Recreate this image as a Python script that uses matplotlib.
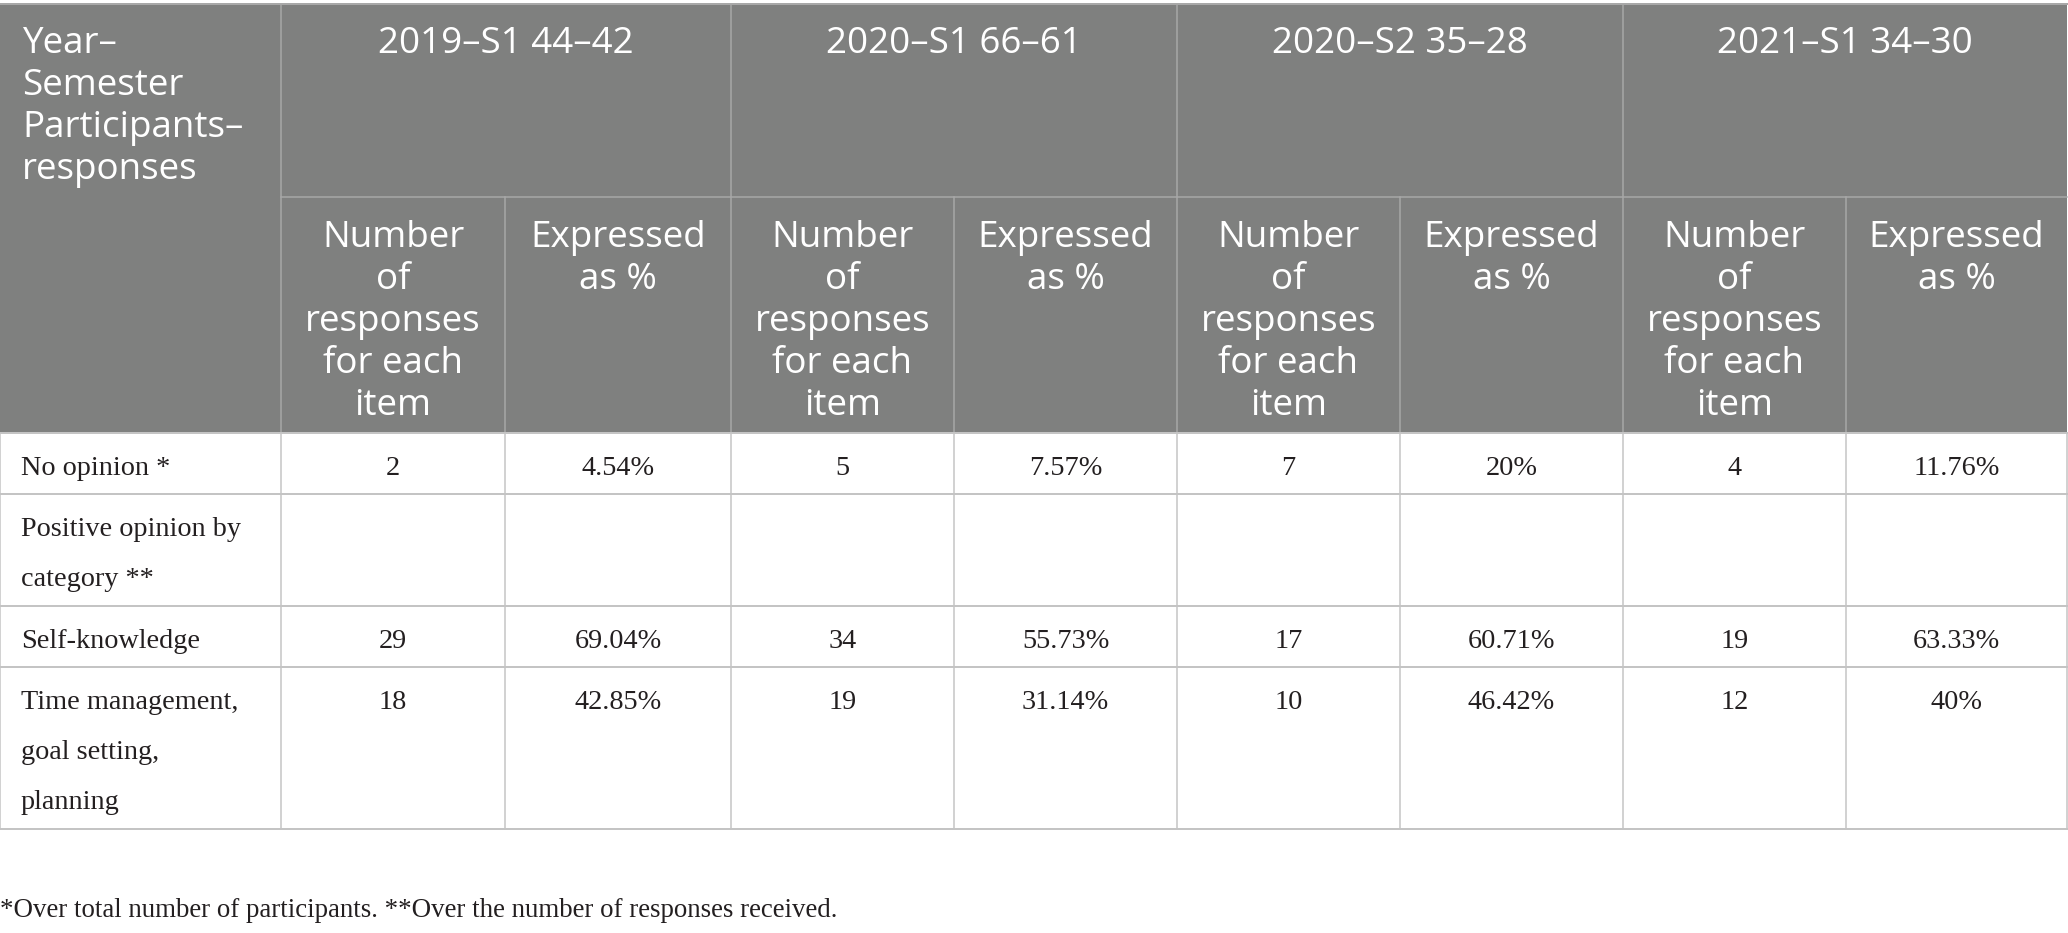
import matplotlib
matplotlib.use("Agg")
import matplotlib.pyplot as plt
from matplotlib.patches import Rectangle

# ---- data ----
corner_header = ["Year–", "Semester", "Participants–", "responses"]
groups = ["2019–S1 44–42", "2020–S1 66–61", "2020–S2 35–28", "2021–S1 34–30"]
sub_num = ["Number", "of", "responses", "for each", "item"]
sub_pct = ["Expressed", "as %"]
row_labels = [["No opinion *"],
              ["Positive opinion by", "category **"],
              ["Self-knowledge"],
              ["Time management,", "goal setting,", "planning"]]
counts = [[2, 5, 7, 4],
          [None, None, None, None],
          [29, 34, 17, 19],
          [18, 19, 10, 12]]
percents = [["4.54%", "7.57%", "20%", "11.76%"],
            [None, None, None, None],
            ["69.04%", "55.73%", "60.71%", "63.33%"],
            ["42.85%", "31.14%", "46.42%", "40%"]]
footnote = "*Over total number of participants. **Over the number of responses received."

# ---- layout (pixels) ----
W, H = 2068, 933
col_edges = [0, 281, 505, 731, 954, 1177, 1400, 1623, 1846, 2067]
row_edges = [4, 197, 433, 494, 606, 667, 829]

HEAD_BG = "#7f807f"
HEAD_LINE = "#a8a8a8"
BODY_LINE = "#c4c4c4"
TXT = "#231f20"
HFONT = ["Open Sans", "DejaVu Sans"]
BFONT = ["Liberation Serif", "DejaVu Serif"]
HSIZE = 26.5
BSIZE = 20.3
HLEAD = 42
BLEAD = 50

fig = plt.figure(figsize=(W / 100, H / 100), dpi=100)
ax = fig.add_axes([0, 0, 1, 1])
ax.set_xlim(0, W)
ax.set_ylim(H, 0)
ax.axis("off")

px = 0.72  # points per pixel

# header background
ax.add_patch(Rectangle((0, row_edges[0]), col_edges[-1], row_edges[2] - row_edges[0],
                       facecolor=HEAD_BG, edgecolor="none", zorder=0))

# header lines
ax.plot([0, col_edges[-1]], [row_edges[0], row_edges[0]], color=HEAD_LINE, lw=2 * px)
ax.plot([col_edges[1], col_edges[-1]], [row_edges[1], row_edges[1]], color=HEAD_LINE, lw=1.5 * px)
for i, x in enumerate(col_edges):
    if i in (0, len(col_edges) - 1):
        continue
    y0 = row_edges[0] if (i % 2 == 1) else row_edges[1]
    ax.plot([x, x], [y0, row_edges[2]], color=HEAD_LINE, lw=1.5 * px)

# body lines
for y in row_edges[2:]:
    ax.plot([0, col_edges[-1]], [y, y], color=BODY_LINE, lw=2 * px)
for x in col_edges:
    ax.plot([x, x], [row_edges[2], row_edges[-1]], color=BODY_LINE, lw=1.5 * px)

# header texts
for k, line in enumerate(corner_header):
    ax.text(22, 53 + k * HLEAD, line, family=HFONT, fontsize=HSIZE, color="white",
            ha="left", va="baseline")
for g, name in enumerate(groups):
    xc = (col_edges[1 + 2 * g] + col_edges[3 + 2 * g]) / 2
    ax.text(xc, 53, name, family=HFONT, fontsize=HSIZE, color="white",
            ha="center", va="baseline")
    xa = (col_edges[1 + 2 * g] + col_edges[2 + 2 * g]) / 2
    xb = (col_edges[2 + 2 * g] + col_edges[3 + 2 * g]) / 2
    for k, line in enumerate(sub_num):
        ax.text(xa, 247 + k * HLEAD, line, family=HFONT, fontsize=HSIZE, color="white",
                ha="center", va="baseline")
    for k, line in enumerate(sub_pct):
        ax.text(xb, 247 + k * HLEAD, line, family=HFONT, fontsize=HSIZE, color="white",
                ha="center", va="baseline")

# body texts
for r, lab in enumerate(row_labels):
    base = row_edges[2 + r] + 42
    for k, line in enumerate(lab):
        ax.text(21, base + k * BLEAD, line, family=BFONT, fontsize=BSIZE, color=TXT,
                ha="left", va="baseline")
    for g in range(len(groups)):
        xa = (col_edges[1 + 2 * g] + col_edges[2 + 2 * g]) / 2
        xb = (col_edges[2 + 2 * g] + col_edges[3 + 2 * g]) / 2
        if counts[r][g] is not None:
            ax.text(xa, base, str(counts[r][g]), family=BFONT, fontsize=BSIZE, color=TXT,
                    ha="center", va="baseline")
        if percents[r][g] is not None:
            ax.text(xb, base, percents[r][g], family=BFONT, fontsize=BSIZE, color=TXT,
                    ha="center", va="baseline")

ax.text(0, 917, footnote, family=BFONT, fontsize=19.4, color=TXT, ha="left", va="baseline")

fig.savefig("out.png", dpi=100, facecolor="white")
